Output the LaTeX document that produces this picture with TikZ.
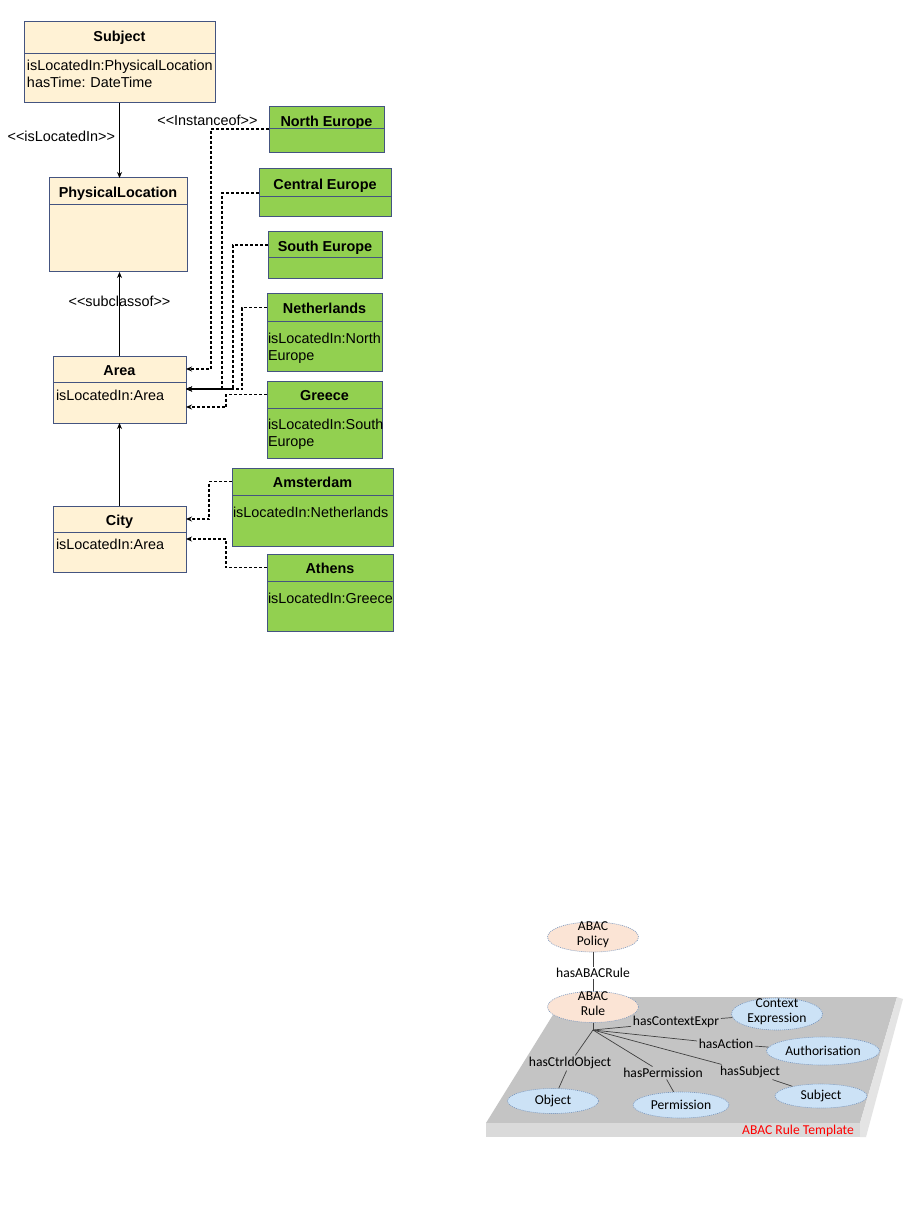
\documentclass[tikz,border=0pt]{standalone}
\usepackage{fontspec}
\setmainfont{Liberation Sans}
\newfontfamily\calib{Carlito}
\usetikzlibrary{positioning,shapes.geometric,arrows.meta}
\definecolor{umlline}{RGB}{68,84,128}
\definecolor{clsfill}{RGB}{255,242,213}
\definecolor{instfill}{RGB}{146,208,80}
\definecolor{rulefill}{RGB}{251,228,213}
\definecolor{termfill}{RGB}{204,226,246}
\definecolor{termline}{RGB}{120,150,190}
\definecolor{slabtop}{RGB}{196,196,196}
\definecolor{slabfront}{RGB}{218,218,218}
\definecolor{slabside}{RGB}{228,228,228}
\newcommand{\stype}[1]{<\kern0pt<#1>\kern0pt>}
\frenchspacing

\begin{document}
\begin{tikzpicture}[x=1pt, y=-1pt, font=\fontsize{14.4}{17}\selectfont,
    head/.style={draw=umlline, line width=1pt, outer sep=0pt, inner sep=0pt,
                 font=\fontsize{14.4}{17}\selectfont\bfseries, text height=13pt, text depth=0.7pt},
    cls/.style={head, fill=clsfill},
    inst/.style={head, fill=instfill},
    clsbody/.style={draw=umlline, line width=1pt, outer sep=0pt, inner xsep=3pt, inner ysep=0pt,
                    fill=clsfill, align=left, below=0pt of #1},
    instbody/.style={clsbody=#1, fill=instfill, inner xsep=1pt},
    isa/.style={-{Stealth[length=6pt,width=5pt]}, line width=1.1pt},
    instof/.style={isa, dash pattern=on 3pt off 2pt},
    term/.style={ellipse, draw=termline, dash pattern=on 1pt off 1pt, line width=0.6pt, fill=termfill,
                 inner sep=0pt, align=center, font=\calib\fontsize{13.6}{15}\selectfont},
    twoline/.style={text height=17pt, text depth=-6.8pt},
    prop/.style={inner sep=1.5pt, font=\calib\fontsize{13.6}{15}\selectfont},
    link/.style={draw=black!75, line width=0.7pt}]

    \path[use as bounding box, fill=white] (0,0) rectangle (907,1222);

    \node[cls, minimum width=191, minimum height=32, text height=10.3pt, text depth=3pt] (subj) at (119.5,38) {Subject};
    \node[clsbody=subj, text width=185, text height=17pt, text depth=32pt] (subjb)
        {isLocatedIn:PhysicalLocation\\hasTime: DateTime};
    \node[cls, minimum width=138, minimum height=27] (phys) at (118,191.5) {PhysicalLocation};
    \node[clsbody=phys, text width=132, text height=17pt, text depth=50pt] (physb) {};
    \node[cls, minimum width=133, minimum height=26] (area) at (119.5,369) {Area};
    \node[clsbody=area, text width=127, text height=18pt, text depth=23pt] (areab) {isLocatedIn:Area};
    \node[cls, minimum width=133, minimum height=26] (city) at (119.5,519) {City};
    \node[clsbody=city, text width=127, text height=17pt, text depth=23pt] (cityb) {isLocatedIn:Area};

    \node[inst, minimum width=115, minimum height=22, text height=18pt] (neur) at (326.5,118) {North Europe};
    \node[instbody=neur, text width=113, text height=12pt, text depth=12pt] (neurb) {};
    \node[inst, minimum width=132, minimum height=28] (ceur) at (325,183) {Central Europe};
    \node[instbody=ceur, text width=130, text height=10pt, text depth=10pt] (ceurb) {};
    \node[inst, minimum width=114, minimum height=26] (seur) at (325,245) {South Europe};
    \node[instbody=seur, text width=112, text height=10pt, text depth=11pt] (seurb) {};
    \node[inst, minimum width=115, minimum height=27] (nl) at (324.5,307.5) {Netherlands};
    \node[instbody=nl, text width=113, text height=22pt, text depth=28pt] (nlb) {isLocatedIn:North\\Europe};
    \node[inst, minimum width=115, minimum height=27] (gr) at (324.5,394.5) {Greece};
    \node[instbody=gr, text width=113, text height=21pt, text depth=29pt] (grb) {isLocatedIn:South\\Europe};
    \node[inst, minimum width=161, minimum height=27] (ams) at (312.5,481.5) {Amsterdam};
    \node[instbody=ams, text width=159, text height=22pt, text depth=29pt] (amsb) {isLocatedIn:Netherlands};
    \node[inst, minimum width=126, minimum height=27] (ath) at (330,567.5) {Athens};
    \node[instbody=ath, text width=124, text height=22pt, text depth=28pt] (athb) {isLocatedIn:Greece};

    \draw[isa] (subjb.south) -- (subjb.south |- phys.north)
        node[midway, left, inner sep=4pt, yshift=4pt] (lblloc) {\stype{isLocatedIn}};
    \draw[isa] (area.north) -- (area.north |- physb.south)
        node[pos=0.65] (lblsub) {\stype{subclassof}};
    \draw[isa] (city.north) -- (city.north |- areab.south);

    \draw[instof] (neurb.north west) -- node[pos=0, anchor=east, inner sep=1pt, xshift=-10pt, yshift=9pt] (lblinst)
        {\stype{Instanceof}} ++(-58,0) |- (area.east);
    \draw[instof] ([yshift=-10pt]ceur.west) -- ++(-37,0) |- ([yshift=-7pt]areab.north east);
    \draw[instof] (seur.west) -- ++(-35,0) |- ([yshift=-7pt]areab.north east);
    \draw[instof] (nl.west) -- ++(-25,0) |- ([yshift=-7pt]areab.north east);
    \draw[instof] (gr.west) -- ++(-41,0) |- ([yshift=-25pt]areab.north east);
    \draw[instof] (ams.west) -- ++(-23,0) |- (city.east);
    \draw[instof] (ath.west) -- ++(-41,0) |- ([yshift=-7pt]cityb.north east);

    \fill[slabtop] (564,997) -- (897,997) -- (860,1123) -- (486,1123) -- cycle;
    \fill[slabfront] (486,1123) rectangle (860,1137);
    \fill[slabside] (860,1123) -- (897,997) -- (903,999) -- (866,1137) -- (860,1137) -- cycle;

    \node[term, twoline, fill=rulefill, minimum width=91, minimum height=30] (pol) at (593,937) {ABAC\\Policy};
    \node[prop] (hasrule) at (593,973) {hasABACRule};
    \node[term, twoline, fill=rulefill, minimum width=91, minimum height=31] (rule) at (593,1007) {ABAC\\Rule};
    \node[term, twoline, minimum width=91, minimum height=32] (ctx) at (777,1014) {Context\\Expression};
    \node[term, minimum width=113, minimum height=28] (auth) at (823,1051) {Authorisation};
    \node[term, minimum width=92, minimum height=24] (asubj) at (821,1096) {Subject};
    \node[term, minimum width=96, minimum height=26] (perm) at (681,1105) {Permission};
    \node[term, minimum width=91, minimum height=25] (obj) at (553,1101) {Object};
    \coordinate (hub) at (593,1030);
    \node[prop] (hasctx) at (676,1022) {hasContextExpr};
    \node[prop] (hasact) at (726,1044) {hasAction};
    \node[prop] (hassubj) at (750,1072) {hasSubject};
    \node[prop] (hasperm) at (663,1073) {hasPermission};
    \node[prop] (hasobj) at (570,1063) {hasCtrldObject};
    \node[prop, text=red] (tmpl) at (798,1131) {ABAC Rule Template};

    \draw[link] (pol) -- (hasrule) -- (rule);
    \draw[link] (rule) -- (hub);
    \draw[link] (hub) -- (hasctx);
    \draw[link] (hasctx) -- (ctx);
    \draw[link] (hub) -- (hasact);
    \draw[link] (hasact) -- (auth);
    \draw[link] (hub) -- (hassubj);
    \draw[link] (hassubj) -- (asubj);
    \draw[link] (hub) -- (hasperm);
    \draw[link] (hasperm) -- (perm);
    \draw[link] (hub) -- (hasobj);
    \draw[link] (hasobj) -- (obj);
\end{tikzpicture}
\end{document}
